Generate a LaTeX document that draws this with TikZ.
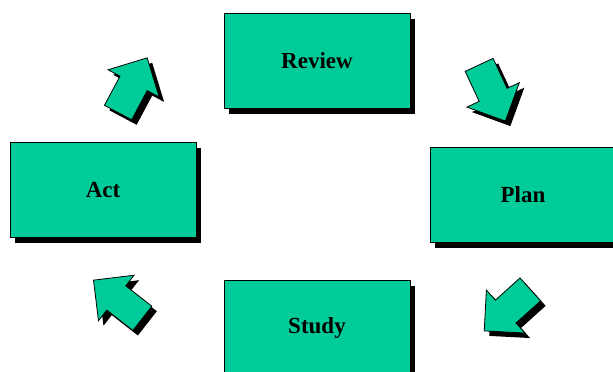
\documentclass[tikz,border=0pt]{standalone}
\usepackage{fontspec}
\setmainfont{Liberation Serif}
\usetikzlibrary{shapes.arrows,shadows}
\definecolor{pdsagreen}{HTML}{00CC99}

\begin{document}
\begin{tikzpicture}[x=1pt,y=-1pt,
    stage/.style={draw=black,line width=0.8pt,fill=pdsagreen,
      minimum width=186pt,minimum height=95pt,inner sep=0pt,
      font=\fontsize{23}{27}\selectfont\bfseries,
      drop shadow={shadow xshift=5pt,shadow yshift=-5pt,opacity=1,fill=black}},
    turn/.style={single arrow,draw=black,line width=0.8pt,fill=pdsagreen,
      minimum height=62pt,minimum width=57pt,inner sep=15pt,
      single arrow head extend=13.5pt,
      drop shadow={shadow xshift=5pt,shadow yshift=-5pt,opacity=1,fill=black}}]
    \clip (0,0) rectangle (613,372);

    % 四个方框
    \node[stage] (review) at (317,61) {Review};
    \node[stage] (plan) at (523,195) {Plan};
    \node[stage] (study) at (317,328) {Study};
    \node[stage] (act) at (103,190) {Act};

    % 箭头
    \node[turn,rotate=62] (toreview) at (129,92) {};
    \node[turn,rotate=-65] (toplan) at (489,86) {};
    \node[turn,rotate=-138] (tostudy) at (513,305) {};
    \node[turn,rotate=142] (toact) at (124,304) {};
\end{tikzpicture}
\end{document}
